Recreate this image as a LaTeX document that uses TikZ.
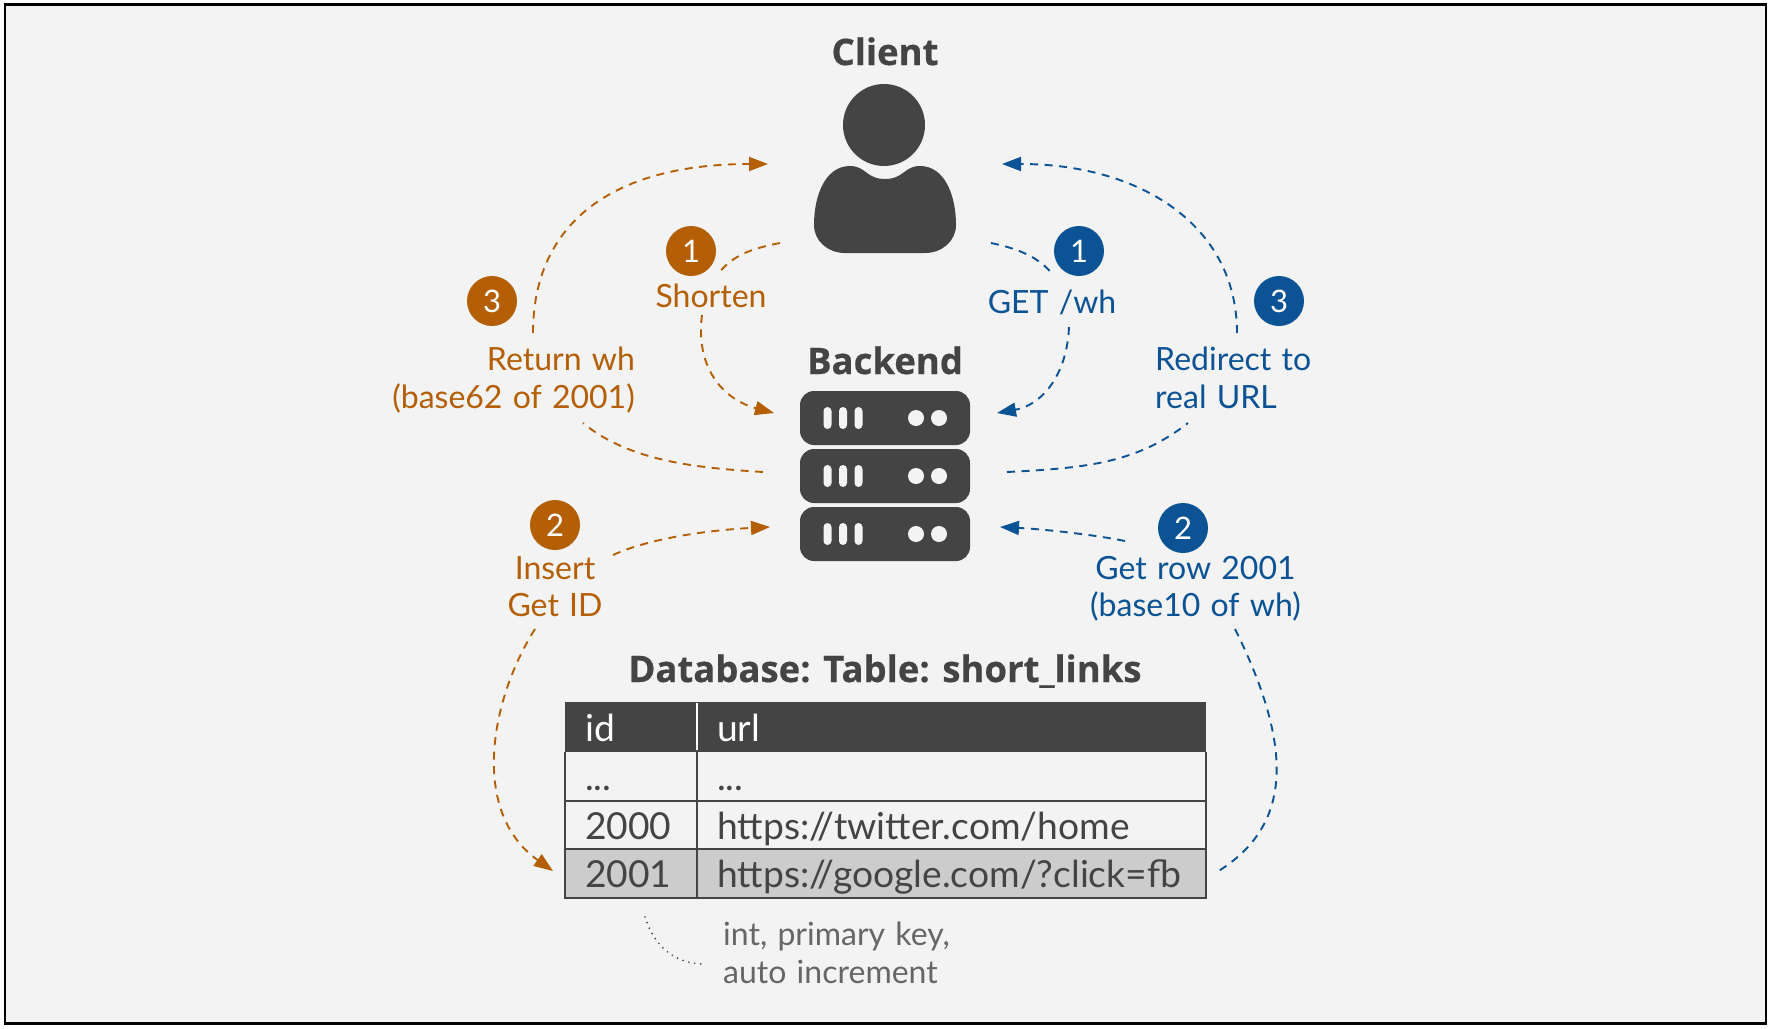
\documentclass[tikz,border=0pt]{standalone}
\usepackage{fontspec}
\setmainfont{Lato}
\newfontfamily\ttlfont[BoldFeatures={FakeBold=0.5}]{Open Sans}
\newfontfamily\lblfont[WordSpace=1.25]{Lato}
\usetikzlibrary{arrows.meta}
\definecolor{pagebg}{HTML}{F3F3F3}
\definecolor{ink}{HTML}{444444}
\definecolor{orng}{HTML}{B45F06}
\definecolor{blu}{HTML}{0B5394}
\definecolor{hilite}{HTML}{CCCCCC}
\definecolor{notegray}{HTML}{666666}
\tikzset{
  lbl/.style={inner sep=0pt,font=\lblfont\fontsize{32}{38}\selectfont},
  ttl/.style={inner sep=0pt,text=ink,font=\ttlfont\fontsize{36.5}{42}\selectfont\bfseries},
  cell/.style={inner sep=0pt,text=ink,font=\fontsize{37.2}{44}\selectfont},
  badge/.style={circle,minimum size=50pt,inner sep=0pt,text=white,font=\fontsize{31}{36}\selectfont},
  conn/.style={line width=1.9pt,dash pattern=on 8pt off 6.5pt},
  conntip/.style={conn,-{Triangle[length=19pt,width=14pt]}},
  rack/.style={fill=ink,rounded corners=14pt},
  slot/.style={fill=pagebg,rounded corners=4pt},
}
\begin{document}
\begin{tikzpicture}[x=1pt,y=-1pt]
\useasboundingbox (0,0) rectangle (1772,1028);
\fill[white] (0,0) rectangle (1772,1028);
\draw[line width=2.4pt,black,fill=pagebg] (5,4.5) rectangle (1766,1023.5);
% client icon
\fill[ink] (884,125) circle (41);
\fill[ink] (850,166) .. controls (866,166) and (866,179) .. (885,179)
  .. controls (904,179) and (904,166) .. (920,166)
  .. controls (945,166) and (956,196) .. (956,225)
  .. controls (956,241) and (942,253) .. (925,253)
  -- (845,253) .. controls (828,253) and (814,241) .. (814,225)
  .. controls (814,196) and (825,166) .. (850,166) -- cycle;
\node[ttl,anchor=base] (client) at (885,65) {Client};
% server icon
\foreach \t in {391,449,507}{
  \fill[rack] (800,\t) rectangle (970,\t+54);
  \foreach \x in {823.5,839,854.5}{
    \fill[slot] (\x,\t+16) rectangle (\x+8,\t+38);
  }
  \fill[pagebg] (916,\t+27) circle (8);
  \fill[pagebg] (939,\t+27) circle (8);
}
\node[ttl,anchor=base] (backend) at (885,374) {Backend};
% badges
\node[badge,fill=orng] (o1) at (691,251) {1};
\node[badge,fill=orng] (o3) at (492,301) {3};
\node[badge,fill=orng] (o2) at (555,525) {2};
\node[badge,fill=blu] (b1) at (1079,251) {1};
\node[badge,fill=blu] (b3) at (1279,301) {3};
\node[badge,fill=blu] (b2) at (1183,528) {2};
% labels
\node[lbl,text=orng,anchor=base] (shorten) at (711,307) {Shorten};
\node[lbl,text=orng,anchor=base east] (ret1) at (635,370) {Return wh};
\node[lbl,text=orng,anchor=base east] (ret2) at (635,408) {(base62 of 2001)};
\node[lbl,text=orng,anchor=base] (ins1) at (555,579) {Insert};
\node[lbl,text=orng,anchor=base] (ins2) at (555,616) {Get ID};
\node[lbl,text=blu,anchor=base] (get) at (1052,313) {GET /wh};
\node[lbl,text=blu,anchor=base west] (red1) at (1155,370) {Redirect to};
\node[lbl,text=blu,anchor=base west] (red2) at (1155,408) {real URL};
\node[lbl,text=blu,anchor=base] (row1) at (1195.5,579) {Get row 2001};
\node[lbl,text=blu,anchor=base] (row2) at (1195.5,616) {(base10 of wh)};
% table
\node[ttl,anchor=base] (dbtitle) at (885,682) {Database: Table: short\_links};
\fill[hilite] (565,849) rectangle (1205.5,898);
\fill[ink] (565,702) rectangle (1205.5,751.5);
\draw[ink,line width=2pt] (565,751.5) -- (565,898) -- (1205.5,898) -- (1205.5,751.5);
\draw[ink,line width=2pt] (565,800.5) -- (1205.5,800.5);
\draw[ink,line width=2pt] (565,849) -- (1205.5,849);
\draw[ink,line width=2pt] (697,751.5) -- (697,898);
\draw[white,line width=2pt] (697,703) -- (697,750);
\node[cell,text=white,anchor=base west] (hid) at (585,741) {id};
\node[cell,text=white,anchor=base west] (hurl) at (717,741) {url};
\node[cell,anchor=base west] (d1) at (585,790) {...};
\node[cell,anchor=base west] (u1) at (717,790) {...};
\node[cell,anchor=base west] (d2) at (585,839) {2000};
\node[cell,anchor=base west] (u2) at (717,839) {https://twitter.com/home};
\node[cell,anchor=base west] (d3) at (585,887) {2001};
\node[cell,anchor=base west] (u3) at (717,887) {https://google.com/?click=fb};
\node[lbl,text=notegray,anchor=base west] (n1) at (723,945) {int, primary key,};
\node[lbl,text=notegray,anchor=base west] (n2) at (723,983) {auto increment};
% connector ends
\coordinate (c1a) at (780,243); \coordinate (c1b) at (717,275);
\coordinate (c2a) at (702,315); \coordinate (c2b) at (774,413);
\coordinate (c3a) at (533,333); \coordinate (c3b) at (768,164);
\coordinate (c4a) at (763,472); \coordinate (c4b) at (583,423);
\coordinate (c5a) at (613,555); \coordinate (c5b) at (770,527);
\coordinate (c6a) at (535,629); \coordinate (c6b) at (553,871);
\coordinate (d1a) at (991,243); \coordinate (d1b) at (1053,275);
\coordinate (d2a) at (1069,327); \coordinate (d2b) at (997,413);
\coordinate (d3a) at (1237,333); \coordinate (d3b) at (1002,164);
\coordinate (d4a) at (1007,472); \coordinate (d4b) at (1188,423);
\coordinate (d5a) at (1125,541); \coordinate (d5b) at (1000,527);
\coordinate (d6a) at (1235,629); \coordinate (d6b) at (1217,872);
\coordinate (ea) at (645,917); \coordinate (eb) at (703,964);
% orange connectors
\draw[conn,orng] (c1a) .. controls (750,249) and (733,255) .. (c1b);
\draw[conntip,orng] (c2a) .. controls (695,370) and (725,400) .. (c2b);
\draw[conntip,orng] (c3a) .. controls (533,225) and (610,164) .. (c3b);
\draw[conn,orng] (c4a) .. controls (700,468) and (630,462) .. (c4b);
\draw[conntip,orng] (c5a) .. controls (650,538) and (710,530) .. (c5b);
\draw[conntip,orng] (c6a) .. controls (490,700) and (470,812) .. (c6b);
% blue connectors
\draw[conn,blu] (d1a) .. controls (1020,249) and (1040,258) .. (d1b);
\draw[conntip,blu] (d2a) .. controls (1067,375) and (1042,405) .. (d2b);
\draw[conntip,blu] (d3a) .. controls (1237,225) and (1140,164) .. (d3b);
\draw[conn,blu] (d4a) .. controls (1090,468) and (1138,462) .. (d4b);
\draw[conntip,blu] (d5a) .. controls (1090,534) and (1040,529) .. (d5b);
\draw[conn,blu] (d6a) .. controls (1300,760) and (1285,830) .. (d6b);
% note leader
\draw[ink,line width=1.9pt,line cap=round,dash pattern=on 0pt off 6pt] (ea) .. controls (655,948) and (675,963) .. (eb);
\end{tikzpicture}
\end{document}
